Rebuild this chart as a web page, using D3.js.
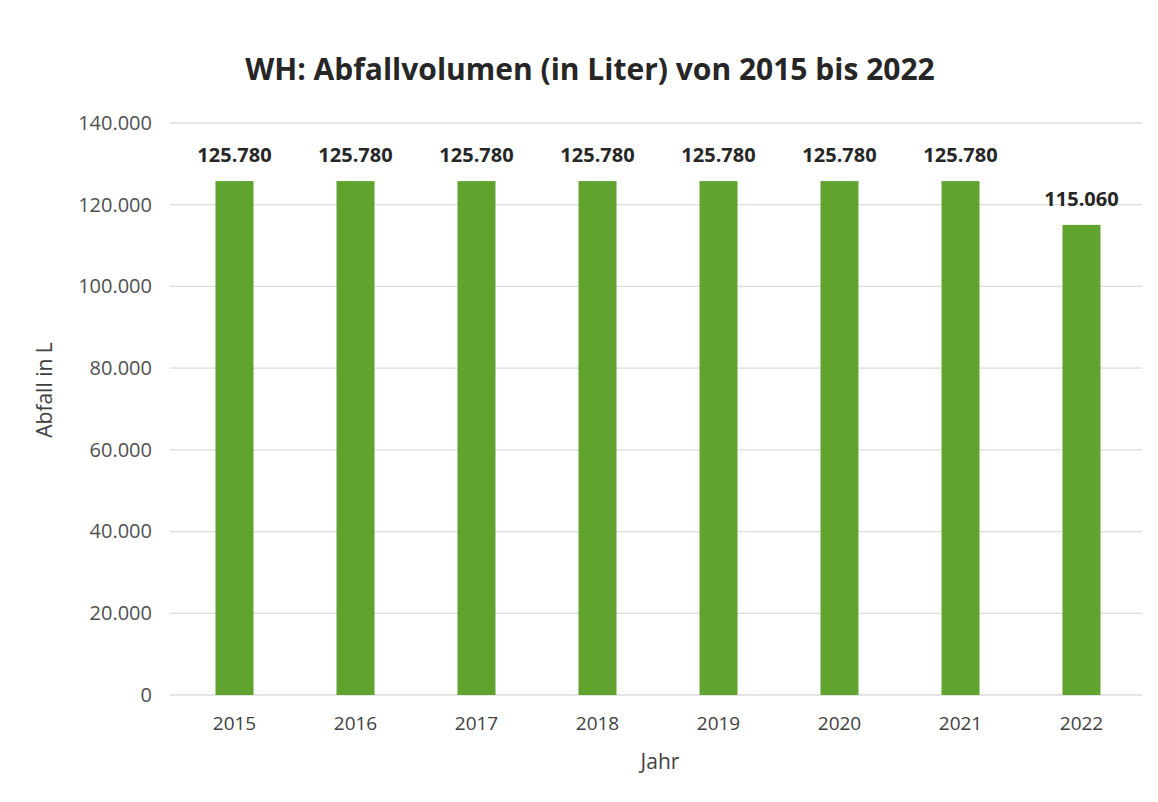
<!DOCTYPE html>
<html>
<head>
<meta charset="utf-8">
<script src="https://cdn.jsdelivr.net/npm/d3@7"></script>
<style>
  body { margin: 0; background: #fff; }
  text { font-family: "Open Sans", Lato, sans-serif; }
</style>
</head>
<body>
<div id="graph1" style="width:1158px;height:802px"></div>
<script>
// Daten
const years = ["2015", "2016", "2017", "2018", "2019", "2020", "2021", "2022"];
const volumes = [125780, 125780, 125780, 125780, 125780, 125780, 125780, 115060];
const yTicks = [0, 20000, 40000, 60000, 80000, 100000, 120000, 140000];

const margin = { top: 123, right: 16, bottom: 107, left: 174 };

const de = d3.formatLocale({ decimal: ",", thousands: ".", grouping: [3], currency: ["", " €"] });
const fmt = de.format(",.0f");

const container = d3.select("#graph1");
const width = 1158 - margin.left - margin.right;
const height = 802 - margin.top - margin.bottom;

const root = container.append("svg")
    .attr("width", 1158)
    .attr("height", 802);

const svg = root.append("g")
    .attr("transform", "translate(" + margin.left + "," + margin.top + ")");

const x = d3.scaleBand()
    .domain(years)
    .range([0, width])
    .paddingInner(0.686)
    .paddingOuter(0.343);

const y = d3.scaleLinear()
    .domain([0, 140000])
    .range([height, 0]);

// Gitterlinien
svg.append("g")
    .selectAll("line")
    .data(yTicks)
    .enter().append("line")
    .attr("x1", -4)
    .attr("x2", width)
    .attr("y1", d => y(d))
    .attr("y2", d => y(d))
    .attr("stroke", "#dcdcdc")
    .attr("stroke-width", 1.3);

// y-Achse
const yAxis = svg.append("g")
    .call(d3.axisLeft(y).tickValues(yTicks).tickFormat(fmt).tickSize(0).tickPadding(22));
yAxis.select(".domain").remove();
yAxis.selectAll("text")
    .attr("fill", "#505050")
    .style("font-size", "20px");

// x-Achse
const xAxis = svg.append("g")
    .attr("transform", "translate(0," + height + ")")
    .call(d3.axisBottom(x).tickSize(0).tickPadding(22));
xAxis.select(".domain").remove();
xAxis.selectAll("text")
    .attr("fill", "#404040")
    .style("font-size", "19px");

// Balken
svg.selectAll(".bar")
    .data(years)
    .enter().append("rect")
    .attr("class", "bar")
    .attr("x", d => x(d))
    .attr("y", (d, i) => y(volumes[i]))
    .attr("width", x.bandwidth())
    .attr("height", (d, i) => height - y(volumes[i]))
    .attr("fill", "#60a32e");

// Datenbeschriftungen
svg.selectAll(".label")
    .data(years)
    .enter().append("text")
    .attr("class", "label")
    .attr("x", d => x(d) + x.bandwidth() / 2)
    .attr("y", (d, i) => y(volumes[i]) - 19)
    .attr("text-anchor", "middle")
    .attr("fill", "#262626")
    .style("font-size", "20px")
    .style("font-weight", "bold")
    .text((d, i) => fmt(volumes[i]));

// Titel
root.append("text")
    .attr("x", 590)
    .attr("y", 80)
    .attr("text-anchor", "middle")
    .attr("fill", "#262626")
    .style("font-size", "30px")
    .style("font-weight", "bold")
    .text("WH: Abfallvolumen (in Liter) von 2015 bis 2022");

// Achsentitel
root.append("text")
    .attr("x", 660)
    .attr("y", 769)
    .attr("text-anchor", "middle")
    .attr("fill", "#404040")
    .style("font-size", "21px")
    .text("Jahr");

root.append("text")
    .attr("transform", "translate(52,390) rotate(-90)")
    .attr("text-anchor", "middle")
    .attr("fill", "#404040")
    .style("font-size", "21px")
    .text("Abfall in L");
</script>
</body>
</html>
